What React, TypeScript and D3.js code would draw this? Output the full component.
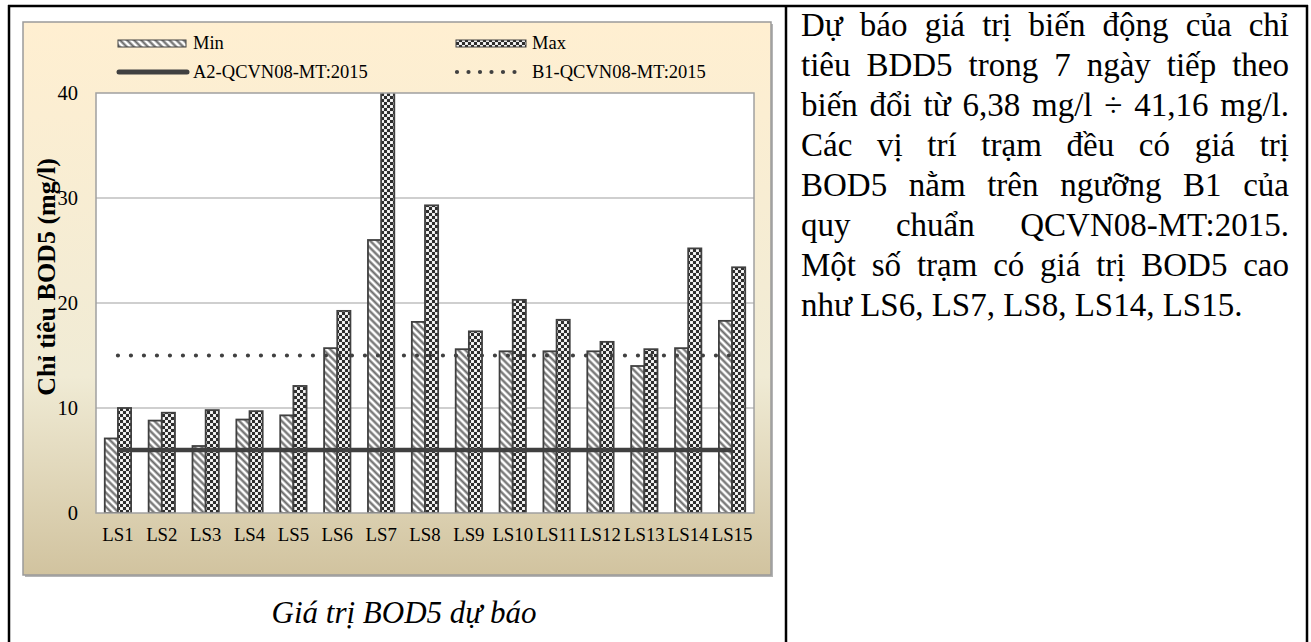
import React from 'react';
import * as d3 from 'd3';

// values (mg/l)
const stations = ['LS1', 'LS2', 'LS3', 'LS4', 'LS5', 'LS6', 'LS7', 'LS8', 'LS9', 'LS10', 'LS11', 'LS12', 'LS13', 'LS14', 'LS15'];
const minValues = [7.1, 8.8, 6.38, 8.9, 9.3, 15.7, 26.0, 18.2, 15.6, 15.4, 15.4, 15.4, 14.0, 15.7, 18.3];
const maxValues = [10.0, 9.55, 9.8, 9.7, 12.1, 19.25, 41.16, 29.3, 17.3, 20.3, 18.4, 16.3, 15.6, 25.2, 23.4];
const seriesNames = ['Min', 'Max'];
const limitA2 = 6;
const limitB1 = 15;
const yTicks = [0, 10, 20, 30, 40];

const caption = 'Giá trị BOD5 dự báo';
const noteLines = [
  'Dự báo giá trị biến động của chỉ',
  'tiêu BDD5 trong 7 ngày tiếp theo',
  'biến đổi từ 6,38 mg/l ÷ 41,16 mg/l.',
  'Các vị trí trạm đều có giá trị',
  'BOD5 nằm trên ngưỡng B1 của',
  'quy chuẩn QCVN08-MT:2015.',
  'Một số trạm có giá trị BOD5 cao',
  'như LS6, LS7, LS8, LS14, LS15.',
];

const serif = "'Liberation Serif', 'Times New Roman', serif";
const dark = '#404040';

// measure words so the note can be justified like the document
let ctx: CanvasRenderingContext2D | null = null;
function measure(text: string, font: string) {
  if (!ctx) ctx = document.createElement('canvas').getContext('2d');
  ctx!.font = font;
  return ctx!.measureText(text).width;
}

function JustifiedLine({ text, x0, x1, y, size, justify }) {
  const font = `${size}px 'Liberation Serif'`;
  const words = text.split(' ');
  const widths = words.map(w => measure(w, font));
  const total = d3.sum(widths);
  const gap = justify && words.length > 1 ? (x1 - x0 - total) / (words.length - 1) : measure(' ', font);
  let cx = x0;
  const xs = widths.map(w => {
    const p = cx;
    cx += w + gap;
    return p;
  });
  return (
    <g>
      {words.map((w, i) => (
        <text key={i} x={xs[i]} y={y} fontFamily={serif} fontSize={size} fill="#000">{w}</text>
      ))}
    </g>
  );
}

export default function App() {
  const width = 1311;
  const height = 642;
  const plot = { left: 96, right: 754, top: 93, bottom: 513 };

  const x = d3.scaleBand().domain(stations).range([plot.left, plot.right]);
  const xs = d3.scaleBand().domain(seriesNames).range([0, x.bandwidth()]).paddingInner(0).paddingOuter(2 / 3);
  const y = d3.scaleLinear().domain([0, 40]).range([plot.bottom, plot.top]);

  const firstC = x(stations[0])! + x.bandwidth() / 2;
  const lastC = x(stations[stations.length - 1])! + x.bandwidth() / 2;
  const hLine = d3.line<[number, number]>().x(d => d[0]).y(d => d[1]);

  const bars = stations.flatMap((s, i) => [
    { s, key: 'Min', v: minValues[i], fill: 'url(#diag)' },
    { s, key: 'Max', v: maxValues[i], fill: 'url(#checker)' },
  ]);

  return (
    <svg width={width} height={height} style={{ position: 'absolute', left: 0, top: 0, background: '#fff' }}>
      <defs>
        <linearGradient id="parchment" x1="0" y1="0" x2="0" y2="1">
          <stop offset="0" stopColor="#FFEFD1" />
          <stop offset="0.64" stopColor="#F0EBD5" />
          <stop offset="1" stopColor="#D1C39F" />
        </linearGradient>
        <pattern id="diag" width="5" height="5" patternUnits="userSpaceOnUse" patternTransform="rotate(-45)">
          <rect width="5" height="5" fill="#fff" />
          <line x1="1.5" y1="0" x2="1.5" y2="5" stroke="#6a6a6a" strokeWidth="2.2" />
        </pattern>
        <pattern id="checker" width="6" height="6" patternUnits="userSpaceOnUse">
          <rect width="6" height="6" fill="#e8e8e8" />
          <rect x="0" y="0" width="3" height="3" fill="#2e2e2e" />
          <rect x="3" y="3" width="3" height="3" fill="#2e2e2e" />
          <rect x="3.8" y="0.8" width="1.4" height="1.4" fill="#fff" />
          <rect x="0.8" y="3.8" width="1.4" height="1.4" fill="#fff" />
        </pattern>
        <clipPath id="plotClip">
          <rect x={plot.left} y={plot.top} width={plot.right - plot.left} height={plot.bottom - plot.top} />
        </clipPath>
      </defs>

      {/* chart area */}
      <rect x={25} y={24} width={748} height={553} fill="#b5b5b5" />
      <rect x={23} y={22} width={748} height={553} fill="url(#parchment)" stroke="#9a9a9a" strokeWidth={1.5} />
      <rect x={plot.left} y={plot.top} width={plot.right - plot.left} height={plot.bottom - plot.top} fill="#fff" />

      {/* grid */}
      {yTicks.slice(1, -1).map(t => (
        <line key={t} x1={plot.left} x2={plot.right} y1={y(t)} y2={y(t)} stroke="#a0a0a0" strokeWidth={1.2} />
      ))}

      {/* bars */}
      <g clipPath="url(#plotClip)">
        {bars.map((b, i) => (
          <rect
            key={i}
            x={x(b.s)! + xs(b.key)!}
            y={y(b.v)}
            width={xs.bandwidth()}
            height={y(0) - y(b.v)}
            fill={b.fill}
            stroke={dark}
            strokeWidth={1.8}
          />
        ))}
      </g>

      <rect x={plot.left} y={plot.top} width={plot.right - plot.left} height={plot.bottom - plot.top} fill="none" stroke="#a0a0a0" strokeWidth={1.5} />

      {/* limit lines */}
      <path d={hLine([[firstC, y(limitA2)], [lastC, y(limitA2)]])!} stroke={dark} strokeWidth={4.5} fill="none" />
      <path d={hLine([[firstC, y(limitB1)], [lastC, y(limitB1)]])!} stroke={dark} strokeWidth={4.2} strokeLinecap="round" strokeDasharray="0 13" fill="none" />

      {/* y axis */}
      {yTicks.map(t => (
        <text key={t} x={78} y={y(t)} dy="0.35em" textAnchor="end" fontFamily={serif} fontSize={20.5}>{t}</text>
      ))}
      <text transform={`translate(55, 277) rotate(-90)`} textAnchor="middle" fontFamily={serif} fontSize={26} fontWeight="bold">
        Chỉ tiêu BOD5 (mg/l)
      </text>

      {/* x axis */}
      {stations.map(s => (
        <text key={s} x={x(s)! + x.bandwidth() / 2} y={541} textAnchor="middle" fontFamily={serif} fontSize={18.8}>{s}</text>
      ))}

      {/* legend */}
      <rect x={118} y={40} width={68} height={7} fill="url(#diag)" stroke={dark} strokeWidth={1} />
      <text x={193} y={49} fontFamily={serif} fontSize={18.5}>Min</text>
      <rect x={456} y={40} width={70} height={7} fill="url(#checker)" stroke={dark} strokeWidth={1} />
      <text x={532} y={49} fontFamily={serif} fontSize={18.5}>Max</text>
      <line x1={119} x2={187} y1={72} y2={72} stroke={dark} strokeWidth={5} strokeLinecap="round" />
      <text x={193} y={78} fontFamily={serif} fontSize={18.5}>A2-QCVN08-MT:2015</text>
      <line x1={457} x2={526} y1={72} y2={72} stroke={dark} strokeWidth={4.2} strokeLinecap="round" strokeDasharray="0 11.5" />
      <text x={532} y={78} fontFamily={serif} fontSize={18.5}>B1-QCVN08-MT:2015</text>

      {/* caption */}
      <text x={404} y={623} textAnchor="middle" fontFamily={serif} fontSize={31} fontStyle="italic">{caption}</text>

      {/* note */}
      {noteLines.map((l, i) => (
        <JustifiedLine key={i} text={l} x0={801} x1={1289} y={36 + i * 40} size={33} justify={i < noteLines.length - 1} />
      ))}

      {/* table borders */}
      <line x1={8} x2={1308} y1={6} y2={6} stroke="#000" strokeWidth={2.5} />
      <line x1={9} x2={9} y1={5} y2={height} stroke="#000" strokeWidth={2.5} />
      <line x1={786} x2={786} y1={5} y2={height} stroke="#000" strokeWidth={2.5} />
      <line x1={1307} x2={1307} y1={5} y2={height} stroke="#000" strokeWidth={2.5} />
    </svg>
  );
}
